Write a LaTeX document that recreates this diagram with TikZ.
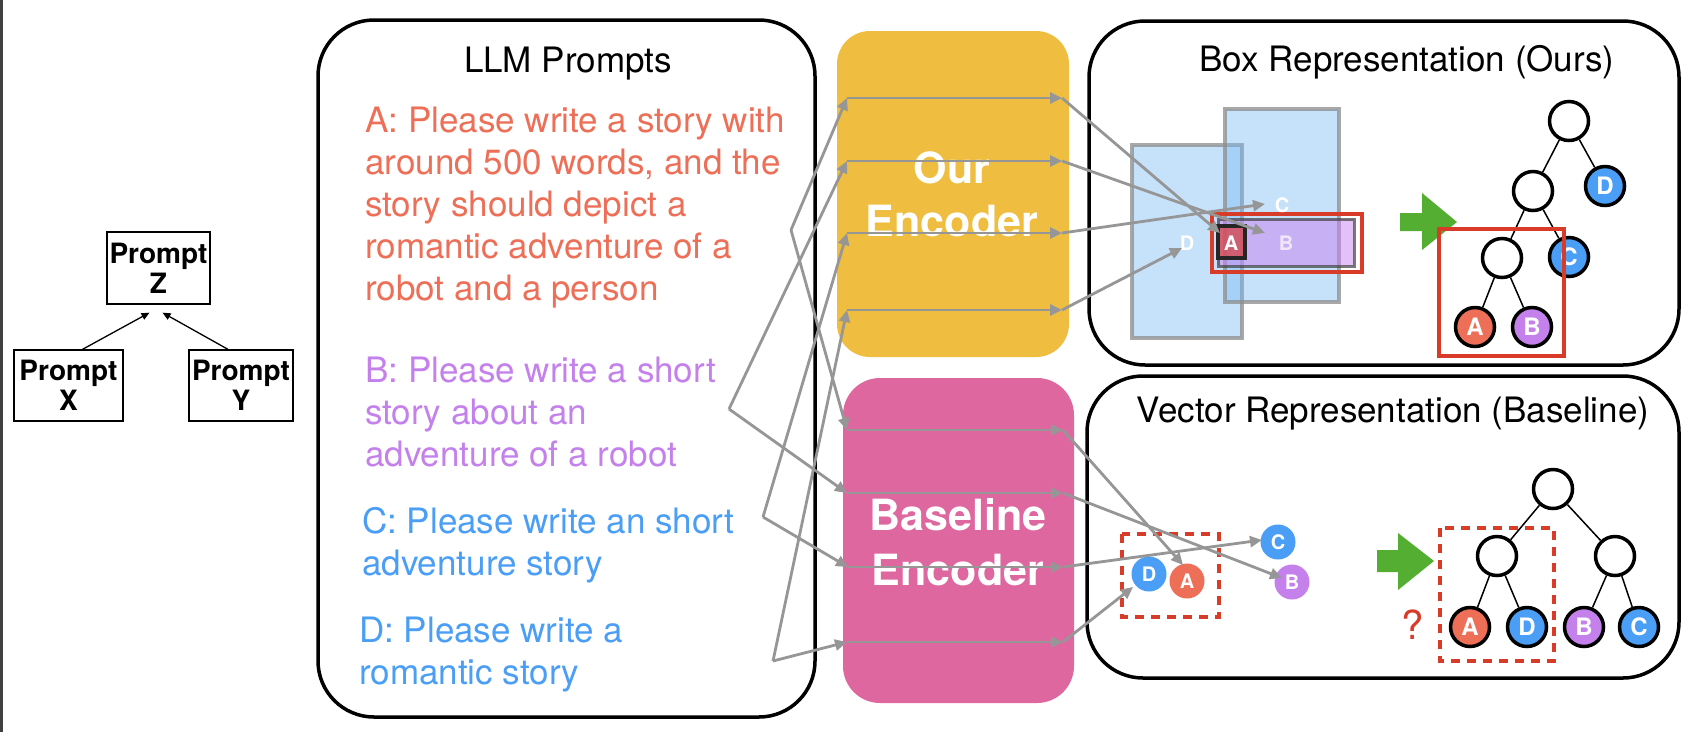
\documentclass[tikz,border=0pt]{standalone}
\usepackage{fontspec}
\setmainfont{TeX Gyre Heros}
\usetikzlibrary{arrows.meta,calc}
\definecolor{cA}{RGB}{237,111,87}
\definecolor{cB}{RGB}{196,129,236}
\definecolor{cC}{RGB}{74,158,245}
\definecolor{ygold}{RGB}{239,190,64}
\definecolor{pinkenc}{RGB}{222,103,160}
\definecolor{lgray}{RGB}{150,150,150}
\definecolor{hred}{RGB}{216,59,40}
\definecolor{garrow}{RGB}{84,174,50}
\definecolor{boxblue}{RGB}{120,185,245}
\definecolor{boxpurp}{RGB}{200,130,240}
\definecolor{boxred}{RGB}{215,70,70}
\begin{document}
\begin{tikzpicture}[x=1pt,y=-1pt,
  flow/.style={draw=lgray, line width=2.8pt, -{Triangle[length=12pt,width=11pt]}},
  ptxt/.style={anchor=base west, inner sep=0pt, font=\fontsize{35}{42}\selectfont},
  ttl/.style={anchor=base, inner sep=0pt, font=\fontsize{35}{42}\selectfont},
  enc/.style={anchor=base, inner sep=0pt, text=white, font=\bfseries\fontsize{43}{50}\selectfont},
  pbox/.style={draw=black, line width=1.3pt, align=center, inner sep=0pt, font=\bfseries\fontsize{28}{30}\selectfont},
  panel/.style={draw=black, line width=3.5pt, rounded corners=56pt},
  tnode/.style={circle, draw=black, line width=3.5pt, minimum size=39pt, inner sep=0pt, fill=white, text=white, font=\bfseries\fontsize{24}{24}\selectfont},
  tedge/.style={draw=black, line width=1.5pt},
  vnode/.style={circle, minimum size=35pt, inner sep=0pt, text=white, font=\bfseries\fontsize{20}{20}\selectfont},
  blab/.style={inner sep=0pt, text=white, font=\bfseries\fontsize{20}{20}\selectfont},
  hbox/.style={draw=hred, line width=4pt},
  dbox/.style={draw=hred, line width=3.5pt, dash pattern=on 9pt off 7pt},
  garr/.style={fill=garrow},
  parr/.style={draw=black, line width=1.3pt, -{Triangle[length=8pt,width=7pt]}}
]
\useasboundingbox (0,0) rectangle (1684,732);
\fill[white] (0,0) rectangle (1684,732);
\fill[black!75] (0,0) rectangle (3,732);

% ---------- small prompt tree ----------
\node[pbox, minimum width=103pt, minimum height=72pt] (PZ) at (158.5,268) {Prompt\\Z};
\node[pbox, minimum width=109pt, minimum height=71pt] (PX) at (68.5,385.5) {Prompt\\X};
\node[pbox, minimum width=104pt, minimum height=71pt] (PY) at (241,385.5) {Prompt\\Y};
\draw[parr] ([xshift=14pt]PX.north) -- ([xshift=-9pt,yshift=-8pt]PZ.south);
\draw[parr] ([xshift=-13pt]PY.north) -- ([xshift=4pt,yshift=-8pt]PZ.south);

% ---------- LLM prompts panel ----------
\draw[panel] (318,20) rectangle (815,717);
\node[ttl] (tLLM) at (568,72) {LLM Prompts};
\begin{scope}[every node/.append style={text=cA}]
\node[ptxt] (a1) at (365,132) {A: Please write a story with};
\node[ptxt] (a2) at (365,174) {around 500 words, and the};
\node[ptxt] (a3) at (365,216) {story should depict a};
\node[ptxt] (a4) at (365,258) {romantic adventure of a};
\node[ptxt] (a5) at (365,300) {robot and a person};
\end{scope}
\begin{scope}[every node/.append style={text=cB}]
\node[ptxt] (b1) at (365,382) {B: Please write a short};
\node[ptxt] (b2) at (365,424) {story about an};
\node[ptxt] (b3) at (365,466) {adventure of a robot};
\end{scope}
\begin{scope}[every node/.append style={text=cC}]
\node[ptxt] (c1) at (362,533) {C: Please write an short};
\node[ptxt] (c2) at (362,575) {adventure story};
\node[ptxt] (d1) at (359,642) {D: Please write a};
\node[ptxt] (d2) at (359,684) {romantic story};
\end{scope}

% ---------- encoders ----------
\fill[ygold, rounded corners=33pt] (837,31) rectangle (1069,357);
\fill[pinkenc, rounded corners=37pt] (843,378) rectangle (1074,703);
\node[enc] (enc1a) at (952,183) {Our};
\node[enc] (enc1b) at (952,236) {Encoder};
\node[enc] (enc2a) at (958,530) {Baseline};
\node[enc] (enc2b) at (958,585) {Encoder};

% ---------- right panels ----------
\draw[panel] (1089,21) rectangle (1679,365);
\draw[panel] (1087,376) rectangle (1679,678);
\node[ttl] (tBox) at (1407,71) {Box Representation (Ours)};
\node[ttl] (tVec) at (1393,422) {Vector Representation (Baseline)};

% box embeddings
\path[fill=boxblue, fill opacity=0.42, draw=black!45, draw opacity=0.75, line width=3.5pt] (1132,145) rectangle (1242,338);
\path[fill=boxblue, fill opacity=0.42, draw=black!45, draw opacity=0.75, line width=3.5pt] (1225,109) rectangle (1339,302);
\path[fill=boxpurp, fill opacity=0.5, draw=black!75, draw opacity=0.7, line width=3pt] (1218,219) rectangle (1354,266);
\path[fill=boxred, fill opacity=0.75, draw=black!85, line width=3.5pt] (1218,226) rectangle (1245,258);
\draw[hbox] (1212,214) rectangle (1362,272);
\node[blab] (lC) at (1282,205) {C};
\node[blab] (lD) at (1187,243) {D};
\node[blab] (lA) at (1231,243) {A};
\node[blab, text=white!80!cB] (lB) at (1286,243) {B};

% top tree
\fill[garr] (1400,213) -- (1422,213) -- (1422,193) -- (1457,222) -- (1422,250) -- (1422,231) -- (1400,231) -- cycle;
\node[tnode] (rootT) at (1569,121) {};
\node[tnode] (mT) at (1533,191) {};
\node[tnode, fill=cC] (dT) at (1605,186) {D};
\node[tnode] (lT) at (1502,258) {};
\node[tnode, fill=cC] (cT) at (1569,257) {C};
\node[tnode, fill=cA] (aT) at (1475,327) {A};
\node[tnode, fill=cB] (bT) at (1532,327) {B};
\draw[tedge] (rootT) -- (mT);
\draw[tedge] (rootT) -- (dT);
\draw[tedge] (mT) -- (lT);
\draw[tedge] (mT) -- (cT);
\draw[tedge] (lT) -- (aT);
\draw[tedge] (lT) -- (bT);
\draw[hbox] (1439,229) rectangle (1564,356);

% vector space
\node[vnode, fill=cC] (vD) at (1149,574) {D};
\node[vnode, fill=cA] (vA) at (1187,581) {A};
\node[vnode, fill=cC] (vC) at (1278,542) {C};
\node[vnode, fill=cB] (vB) at (1292,582) {B};
\draw[dbox] (1122,534) rectangle (1219,617);

% bottom tree
\fill[garr] (1377,550) -- (1398,550) -- (1398,533) -- (1434,561) -- (1398,590) -- (1398,572) -- (1377,572) -- cycle;
\node[tnode] (rootB) at (1553,489) {};
\node[tnode] (lB) at (1497,556) {};
\node[tnode] (rB) at (1615,556) {};
\node[tnode, fill=cA] (aB) at (1470,627) {A};
\node[tnode, fill=cC] (dB) at (1527,627) {D};
\node[tnode, fill=cB] (bB) at (1584,627) {B};
\node[tnode, fill=cC] (cB) at (1639,627) {C};
\draw[tedge] (rootB) -- (lB);
\draw[tedge] (rootB) -- (rB);
\draw[tedge] (lB) -- (aB);
\draw[tedge] (lB) -- (dB);
\draw[tedge] (rB) -- (bB);
\draw[tedge] (rB) -- (cB);
\draw[dbox] (1440,528) rectangle (1554,661);
\node[inner sep=0pt, text=hred, font=\fontsize{40}{40}\selectfont] (qm) at (1413,625) {?};

% ---------- connectors ----------
\coordinate (sA) at (791,230);
\coordinate (sB) at (729,409);
\coordinate (sC) at (763,517);
\coordinate (sD) at (773,661);
\coordinate (yi1) at (847,98);  \coordinate (yo1) at (1062,98);
\coordinate (yi2) at (847,161); \coordinate (yo2) at (1062,161);
\coordinate (yi3) at (847,233); \coordinate (yo3) at (1062,233);
\coordinate (yi4) at (847,310); \coordinate (yo4) at (1062,310);
\coordinate (pi1) at (847,430); \coordinate (po1) at (1063,430);
\coordinate (pi2) at (847,493); \coordinate (po2) at (1063,493);
\coordinate (pi3) at (848,567); \coordinate (po3) at (1063,567);
\coordinate (pi4) at (847,642); \coordinate (po4) at (1063,642);
\coordinate (bxA) at (1220,233);
\coordinate (bxB) at (1265,233);
\coordinate (bxC) at (1265,204);
\coordinate (bxD) at (1182,248);
\coordinate (vcA) at (1183,565);
\coordinate (vcB) at (1282,578);
\coordinate (vcC) at (1262,540);
\coordinate (vcD) at (1133,587);

\draw[flow] (sA) -- (yi1);
\draw[flow] (sB) -- (yi2);
\draw[flow] (sC) -- (yi3);
\draw[flow] (sD) -- (yi4);
\draw[flow] (sA) -- (pi1);
\draw[flow] (sB) -- (pi2);
\draw[flow] (sC) -- (pi3);
\draw[flow] (sD) -- (pi4);
\foreach \i in {1,2,3,4}{
  \draw[flow] (yi\i) -- (yo\i);
  \draw[flow] (pi\i) -- (po\i);
}
\draw[flow] (yo1) -- (bxA);
\draw[flow] (yo2) -- (bxB);
\draw[flow] (yo3) -- (bxC);
\draw[flow] (yo4) -- (bxD);
\draw[flow] (po1) -- (vcA);
\draw[flow] (po2) -- (vcB);
\draw[flow] (po3) -- (vcC);
\draw[flow] (po4) -- (vcD);
\end{tikzpicture}
\end{document}
